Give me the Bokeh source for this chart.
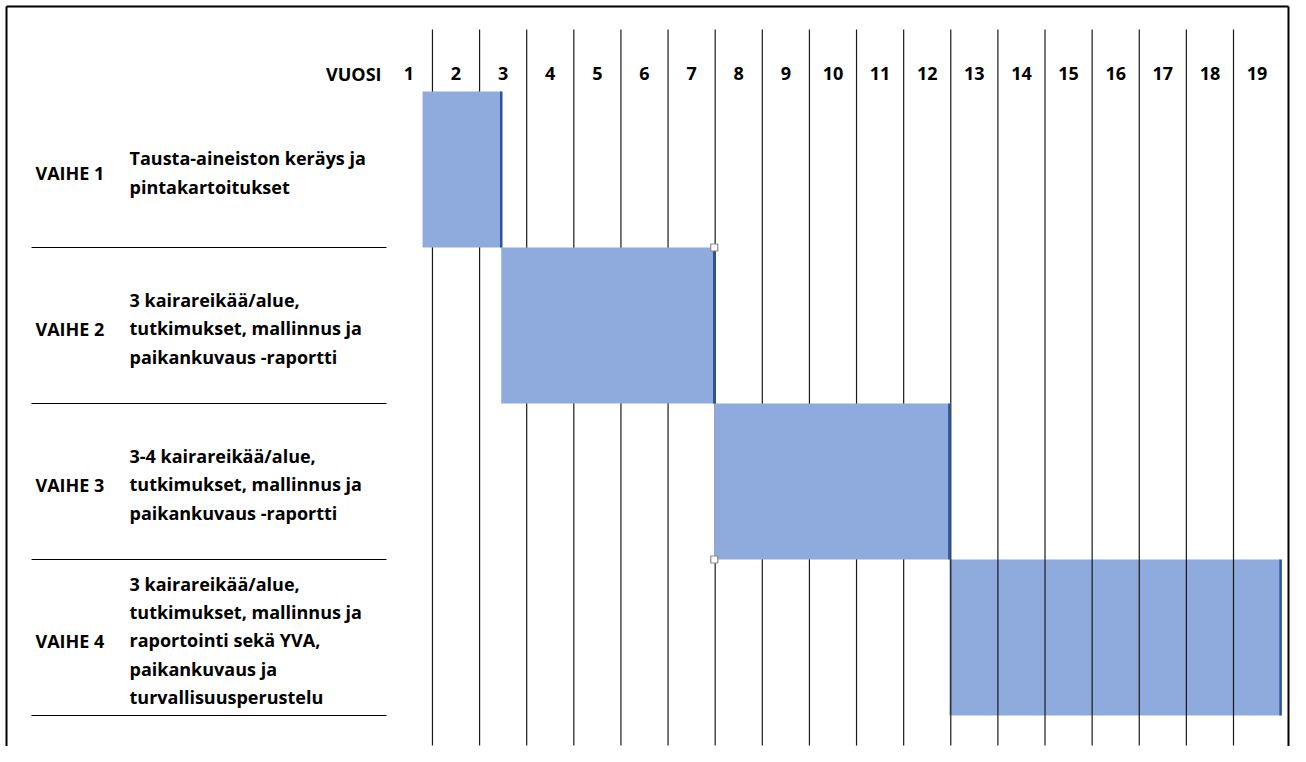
from bokeh.plotting import figure
from bokeh.models import ColumnDataSource, Range1d, CDSView, BooleanFilter
from bokeh.core.properties import value
from bokeh.embed import file_html
from bokeh.resources import INLINE

# ---- data ----
years = list(range(1, 20))
year_labels = [str(y) for y in years]
header_label = "VUOSI"
phases = ["VAIHE 1", "VAIHE 2", "VAIHE 3", "VAIHE 4"]
descriptions = [
    "Tausta-aineiston keräys ja\npintakartoitukset",
    "3 kairareikää/alue,\ntutkimukset, mallinnus ja\npaikankuvaus -raportti",
    "3-4 kairareikää/alue,\ntutkimukset, mallinnus ja\npaikankuvaus -raportti",
    "3 kairareikää/alue,\ntutkimukset, mallinnus ja\nraportointi sekä YVA,\npaikankuvaus ja\nturvallisuusperustelu",
]
bar_start = [1.29, 2.96, 7.48, 12.47]
bar_end = [2.96, 7.48, 12.47, 19.5]

# ---- layout helpers (reference px -> data) ----
W, H = 1290, 746
COL = 47.12          # px per year
X_LABEL1 = 408.4     # x of year 1 label
ROW = 156.0          # px per phase row
Y_TOP = 91.0         # y of first row top

def sx(X):
    return 1 + (X - X_LABEL1) / COL

def sy(Y):
    return (Y - Y_TOP) / ROW

p = figure(width=W, height=H, output_backend="svg", toolbar_location=None,
           x_range=Range1d(sx(0), sx(W)),
           y_range=Range1d(sy(H), sy(0)),
           min_border=0, min_border_left=0, min_border_right=0,
           min_border_top=0, min_border_bottom=0)
p.axis.visible = False
p.grid.visible = False
p.outline_line_color = None
p.background_fill_color = "white"
p.border_fill_color = "white"

# outer border (left, top, right)
p.segment(x0=[sx(6), sx(6), sx(W - 2)], x1=[sx(6), sx(W - 2), sx(W - 2)],
          y0=[sy(H), sy(6), sy(6)], y1=[sy(6), sy(6), sy(H)],
          line_color="black", line_width=2)

n = len(phases)
rows = list(range(n))
bars = ColumnDataSource(dict(
    left=bar_start, right=bar_end,
    top=[r for r in rows], bottom=[r + 1 for r in rows],
))
last = [i == n - 1 for i in rows]
first = [not v for v in last]

FILL = "#8FAADC"
EDGE = "#2F5597"

# last bar drawn beneath the year lines
p.quad(left="left", right="right", top="top", bottom="bottom", source=bars,
       view=CDSView(filter=BooleanFilter(last)), fill_color=FILL, line_color=None)

# vertical year separators
xs = [y + 0.5 for y in years[:-1]]
p.segment(x0=xs, x1=xs, y0=[sy(29)] * len(xs), y1=[sy(745)] * len(xs),
          line_color="#1a1a1a", line_width=1.2)

p.quad(left="left", right="right", top="top", bottom="bottom", source=bars,
       view=CDSView(filter=BooleanFilter(first)), fill_color=FILL, line_color=None)

# dark right edges of bars
p.segment(x0="right", x1="right", y0="top", y1="bottom", source=bars,
          line_color=EDGE, line_width=2.5)

# horizontal row separators on the left
p.segment(x0=[sx(31)] * n, x1=[sx(386)] * n, y0=[r + 1 for r in rows],
          y1=[r + 1 for r in rows], line_color="black", line_width=1.2)

# small selection handles
p.scatter(x=[bar_end[1], bar_start[2]], y=[1, 3], marker="square", size=7,
          fill_color="white", line_color="#8a8a8a", line_width=1.2)

FONT = value("Open Sans")
FS = "18px"
# header
p.text(x=years, y=[sy(73)] * len(years), text=year_labels, text_font=FONT,
       text_font_style="bold", text_font_size=FS, text_align="center",
       text_baseline="middle", text_color="black")
p.text(x=[sx(381)], y=[sy(73)], text=[header_label], text_font=FONT,
       text_font_style="bold", text_font_size=FS, text_align="right",
       text_baseline="middle", text_color="black")

centers = [r + 0.5 for r in rows]
shift = sy(Y_TOP + 3)
p.text(x=[sx(35)] * n, y=[c + shift for c in centers], text=phases,
       text_font=FONT, text_font_style="bold", text_font_size=FS,
       text_align="left", text_baseline="middle", text_color="black")
p.text(x=[sx(129)] * n, y=[c + shift for c in centers], text=descriptions,
       text_font=FONT, text_font_style="bold", text_font_size=FS,
       text_align="left", text_baseline="middle", text_color="black",
       text_line_height=1.17)

open("out.html", "w").write(file_html(p, INLINE))
